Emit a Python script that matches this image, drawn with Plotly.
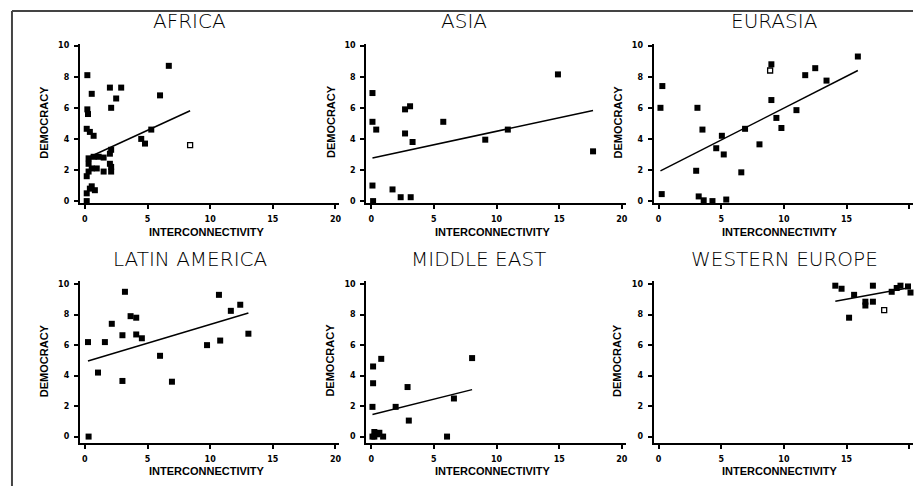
import plotly.graph_objects as go

# ---------------- data ----------------
regions = ["AFRICA", "ASIA", "EURASIA", "LATIN AMERICA", "MIDDLE EAST", "WESTERN EUROPE"]

africa_x = [6.7, 0.2, 0.55, 2.0, 2.9, 2.5, 2.1, 6.0, 0.2, 0.25, 0.15, 0.4, 0.7, 4.5, 4.8, 5.3,
            0.3, 0.7, 1.1, 1.5, 2.0, 2.1, 0.3, 0.55, 0.95, 0.3, 2.0, 2.1, 2.1, 0.15, 1.5,
            0.4, 0.8, 0.15, 0.15, 0.55]
africa_y = [8.7, 8.1, 6.9, 7.3, 7.3, 6.6, 6.0, 6.8, 5.9, 5.6, 4.65, 4.45, 4.2, 4.0, 3.7, 4.6,
            2.75, 2.85, 2.85, 2.8, 3.05, 3.3, 2.4, 2.1, 2.1, 1.9, 2.4, 2.2, 1.9, 1.6, 1.9,
            0.8, 0.7, 0.5, 0.0, 0.95]
africa_open_x = [8.4]
africa_open_y = [3.6]

asia_x = [0.1, 0.1, 0.4, 2.7, 3.1, 2.7, 3.3, 5.75, 9.1, 10.9, 14.9, 17.7, 0.1, 0.15, 1.7, 2.35, 3.15]
asia_y = [6.95, 5.1, 4.6, 5.9, 6.1, 4.35, 3.8, 5.1, 3.95, 4.6, 8.15, 3.2, 1.0, 0.0, 0.75, 0.25, 0.25]
asia_open_x = []
asia_open_y = []

eurasia_x = [0.3, 0.15, 0.25, 3.1, 3.5, 3.0, 3.2, 3.6, 4.3, 5.4, 5.05, 4.6, 5.2, 6.6, 6.9, 8.05,
             9.0, 9.0, 9.4, 9.8, 11.0, 11.7, 12.5, 13.4, 15.9]
eurasia_y = [7.4, 6.0, 0.45, 6.0, 4.6, 1.95, 0.3, 0.05, 0.0, 0.1, 4.2, 3.4, 3.0, 1.85, 4.65, 3.65,
             8.8, 6.5, 5.35, 4.7, 5.85, 8.1, 8.55, 7.75, 9.3]
eurasia_open_x = [8.9]
eurasia_open_y = [8.4]

latin_x = [0.3, 0.25, 1.05, 1.6, 2.15, 3.0, 3.2, 3.65, 4.1, 4.1, 4.55, 3.0, 6.0, 6.95, 9.75,
           10.7, 10.8, 11.65, 12.4, 13.05]
latin_y = [0.0, 6.2, 4.2, 6.2, 7.4, 6.65, 9.5, 7.9, 7.8, 6.7, 6.45, 3.65, 5.3, 3.6, 6.0,
           9.3, 6.3, 8.25, 8.65, 6.75]
latin_open_x = []
latin_open_y = []

mideast_x = [0.8, 0.15, 0.15, 0.1, 1.95, 2.9, 3.0, 6.6, 8.05, 6.05, 0.25, 0.65, 0.95, 0.25, 0.5, 0.1]
mideast_y = [5.1, 4.6, 3.5, 1.95, 1.95, 3.25, 1.05, 2.5, 5.15, 0.0, 0.3, 0.25, 0.0, 0.0, 0.15, 0.0]
mideast_open_x = []
mideast_open_y = []

weurope_x = [14.1, 14.6, 17.1, 15.6, 16.5, 17.1, 16.5, 15.2, 19.0, 19.3, 19.9, 20.1, 18.6]
weurope_y = [9.9, 9.7, 9.9, 9.3, 8.85, 8.85, 8.6, 7.8, 9.75, 9.9, 9.85, 9.45, 9.5]
weurope_open_x = [18.0]
weurope_open_y = [8.3]

# regression lines (intercept, slope)
fit_intercept = [2.7, 2.75, 1.88, 4.9, 1.43, 6.76]
fit_slope = [0.37, 0.174, 0.41, 0.246, 0.205, 0.15]

x_ticks = [0, 5, 10, 15, 20]
y_ticks = [0, 2, 4, 6, 8, 10]
x_title = "INTERCONNECTIVITY"
y_title = "DEMOCRACY"

series = [
    (africa_x, africa_y, africa_open_x, africa_open_y),
    (asia_x, asia_y, asia_open_x, asia_open_y),
    (eurasia_x, eurasia_y, eurasia_open_x, eurasia_open_y),
    (latin_x, latin_y, latin_open_x, latin_open_y),
    (mideast_x, mideast_y, mideast_open_x, mideast_open_y),
    (weurope_x, weurope_y, weurope_open_x, weurope_open_y),
]

# ---------------- layout geometry (pixels) ----------------
W, H = 915, 488
col_px = [(80, 340), (367, 627), (655, 915)]
row_px = [(41.5, 202.5), (281, 445)]
row_yrange = [[-0.15, 10.1], [-0.45, 10.2]]
x_range = [-0.4, 20.3]
title_center_px = [190, 465, 776, 190, 480, 786]
title_y_px = [18, 259]
xtitle_y_px = [231, 473]


def fx(px):
    return px / W


def fy(py):
    return 1 - py / H


fig = go.Figure()
annotations = []
tick_font = dict(family="DejaVu Sans", size=8, color="black", weight="bold")
axis_title_font = dict(family="Liberation Sans, Arial, sans-serif", size=11, color="black", weight="bold")
title_font = dict(family="DejaVu Sans", size=20, color="black", weight=200)

axes = {}
for i, name in enumerate(regions):
    r, c = divmod(i, 3)
    n = i + 1
    xa = "x" if n == 1 else f"x{n}"
    ya = "y" if n == 1 else f"y{n}"
    xs, ys, oxs, oys = series[i]

    fig.add_trace(go.Scatter(
        x=xs, y=ys, mode="markers", xaxis=xa, yaxis=ya, showlegend=False,
        marker=dict(symbol="square", size=6, color="black", line=dict(width=0)),
        cliponaxis=False,
    ))
    if oxs:
        fig.add_trace(go.Scatter(
            x=oxs, y=oys, mode="markers", xaxis=xa, yaxis=ya, showlegend=False,
            marker=dict(symbol="square-open", size=5, color="black", line=dict(width=1.3)),
            cliponaxis=False,
        ))
    xmin, xmax = min(xs + oxs), max(xs + oxs)
    fig.add_trace(go.Scatter(
        x=[xmin, xmax],
        y=[fit_intercept[i] + fit_slope[i] * xmin, fit_intercept[i] + fit_slope[i] * xmax],
        mode="lines", xaxis=xa, yaxis=ya, showlegend=False,
        line=dict(color="black", width=1.5),
    ))

    x0, x1 = col_px[c]
    y0, y1 = row_px[r]
    common = dict(
        showline=True, linecolor="black", linewidth=2, ticks="outside", ticklen=4,
        tickwidth=2, tickcolor="black", showgrid=False, zeroline=False,
        tickfont=tick_font, ticklabelstandoff=3, fixedrange=True,
    )
    inner = dict(
        showline=False, ticks="inside", ticklen=3, tickwidth=2, tickcolor="black",
        showgrid=False, zeroline=False, showticklabels=False, fixedrange=True,
    )
    axes["xaxis" if n == 1 else f"xaxis{n}"] = dict(
        domain=[fx(x0), fx(x1)], range=x_range, anchor=ya, tickvals=x_ticks, **common)
    axes["yaxis" if n == 1 else f"yaxis{n}"] = dict(
        domain=[fy(y1), fy(y0)], range=row_yrange[r], anchor=xa, tickvals=y_ticks, **common)
    # overlay axes give the ticks their crossing ("+") look
    m = n + 6
    axes[f"xaxis{m}"] = dict(
        domain=[fx(x0), fx(x1)], range=x_range, anchor=ya, overlaying=xa,
        tickvals=x_ticks, side="bottom", **inner)
    axes[f"yaxis{m}"] = dict(
        domain=[fy(y1), fy(y0)], range=row_yrange[r], anchor=xa, overlaying=ya,
        tickvals=y_ticks, side="left", **inner)

    # panel title
    annotations.append(dict(
        text=name, x=fx(title_center_px[i]), y=fy(title_y_px[r]), xref="paper", yref="paper",
        showarrow=False, xanchor="center", yanchor="middle", font=title_font))
    # x-axis title
    annotations.append(dict(
        text=x_title, x=fx((x0 + x1) / 2 - 3), y=fy(xtitle_y_px[r]), xref="paper", yref="paper",
        showarrow=False, xanchor="center", yanchor="middle", font=axis_title_font))
    # y-axis title
    annotations.append(dict(
        text=y_title, x=fx(x0 - 36), y=fy((y0 + y1) / 2 - 2), xref="paper", yref="paper",
        showarrow=False, xanchor="center", yanchor="middle", textangle=-90,
        font=axis_title_font))

fig.update_layout(**axes)
fig.update_layout(
    width=W, height=H, margin=dict(l=0, r=0, t=0, b=0),
    paper_bgcolor="white", plot_bgcolor="white",
    annotations=annotations,
    shapes=[
        dict(type="line", xref="paper", yref="paper", x0=fx(12), y0=fy(8), x1=1, y1=fy(8),
             line=dict(color="#444444", width=2)),
        dict(type="line", xref="paper", yref="paper", x0=fx(12), y0=fy(8), x1=fx(12), y1=0,
             line=dict(color="#444444", width=2)),
    ],
)

fig.write_html("out.html", config={"displayModeBar": False},
               post_script="document.body.style.margin='0';")
